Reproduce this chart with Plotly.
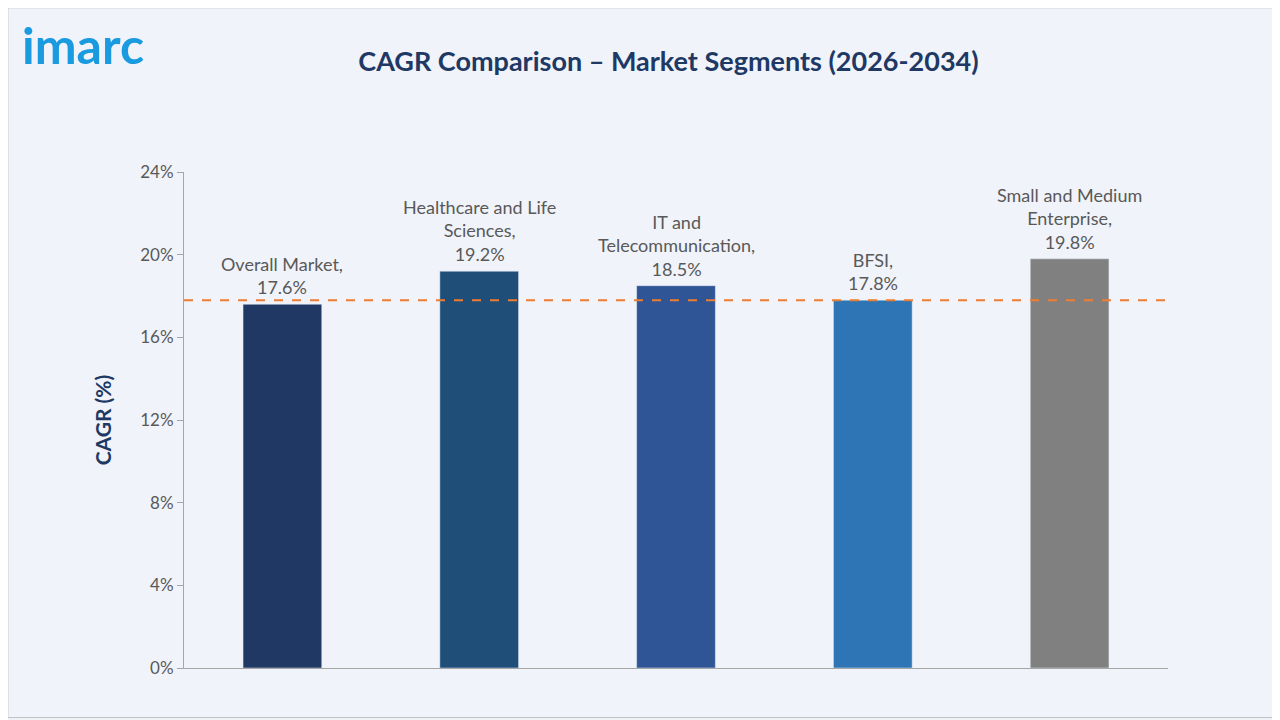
import plotly.graph_objects as go

segments = ["Overall Market", "Healthcare and Life Sciences", "IT and Telecommunication", "BFSI", "Small and Medium Enterprise"]
label_text = ["Overall Market,<br>17.6%", "Healthcare and Life<br>Sciences,<br>19.2%",
              "IT and<br>Telecommunication,<br>18.5%", "BFSI,<br>17.8%",
              "Small and Medium<br>Enterprise,<br>19.8%"]
cagr = [17.6, 19.2, 18.5, 17.8, 19.8]
ref_line = 17.8
colors = ["#203864", "#1f4e79", "#2f5597", "#2e75b6", "#808080"]

fig = go.Figure()
fig.add_trace(go.Bar(x=segments, y=cagr, marker_color=colors, width=0.4))

# value labels above bars
labels = [dict(x=s, y=v, text=t, xref="x", yref="y", showarrow=False, yanchor="bottom",
               yshift=4, font=dict(size=18, color="#595959"))
          for s, v, t in zip(segments, cagr, label_text)]

fig.update_layout(
    width=1280, height=720,
    paper_bgcolor="#f0f3f9", plot_bgcolor="#f0f3f9",
    font=dict(family="Lato, Open Sans, sans-serif", color="#595959"),
    margin=dict(l=176, r=120, t=164, b=60),
    showlegend=False,
    title=dict(text="<b>CAGR Comparison – Market Segments (2026-2034)</b>",
               x=0.516, xanchor="center", y=0.925, yanchor="middle",
               font=dict(size=27, color="#203864")),
    xaxis=dict(showticklabels=False, showline=True, linecolor="#a6a6a6", ticks=""),
    yaxis=dict(range=[0, 24], tickvals=[0, 4, 8, 12, 16, 20, 24],
               ticktext=["0%", "4%", "8%", "12%", "16%", "20%", "24%"],
               showgrid=False, zeroline=False, showline=True, linecolor="#a6a6a6",
               ticks="outside", tickcolor="#a6a6a6", ticklen=6,
               tickfont=dict(size=17, color="#595959"),
               title=dict(text="<b>CAGR (%)</b>", font=dict(size=21, color="#203864"), standoff=22)),
    annotations=labels + [dict(text="<b>imarc</b>", xref="paper", yref="paper", x=-0.167, y=1.32,
                               xanchor="left", yanchor="top", showarrow=False,
                               font=dict(size=50, color="#1a9be0", family="Lato"))],
    shapes=[dict(type="rect", xref="paper", yref="paper", x0=-0.179, x1=1.112, y0=-0.1, y1=1.331,
                 line=dict(color="#bfbfbf", width=1))],
)
fig.add_hline(y=ref_line, line=dict(color="#ed7d31", width=2, dash="dash"))
fig.write_html("out.html")
